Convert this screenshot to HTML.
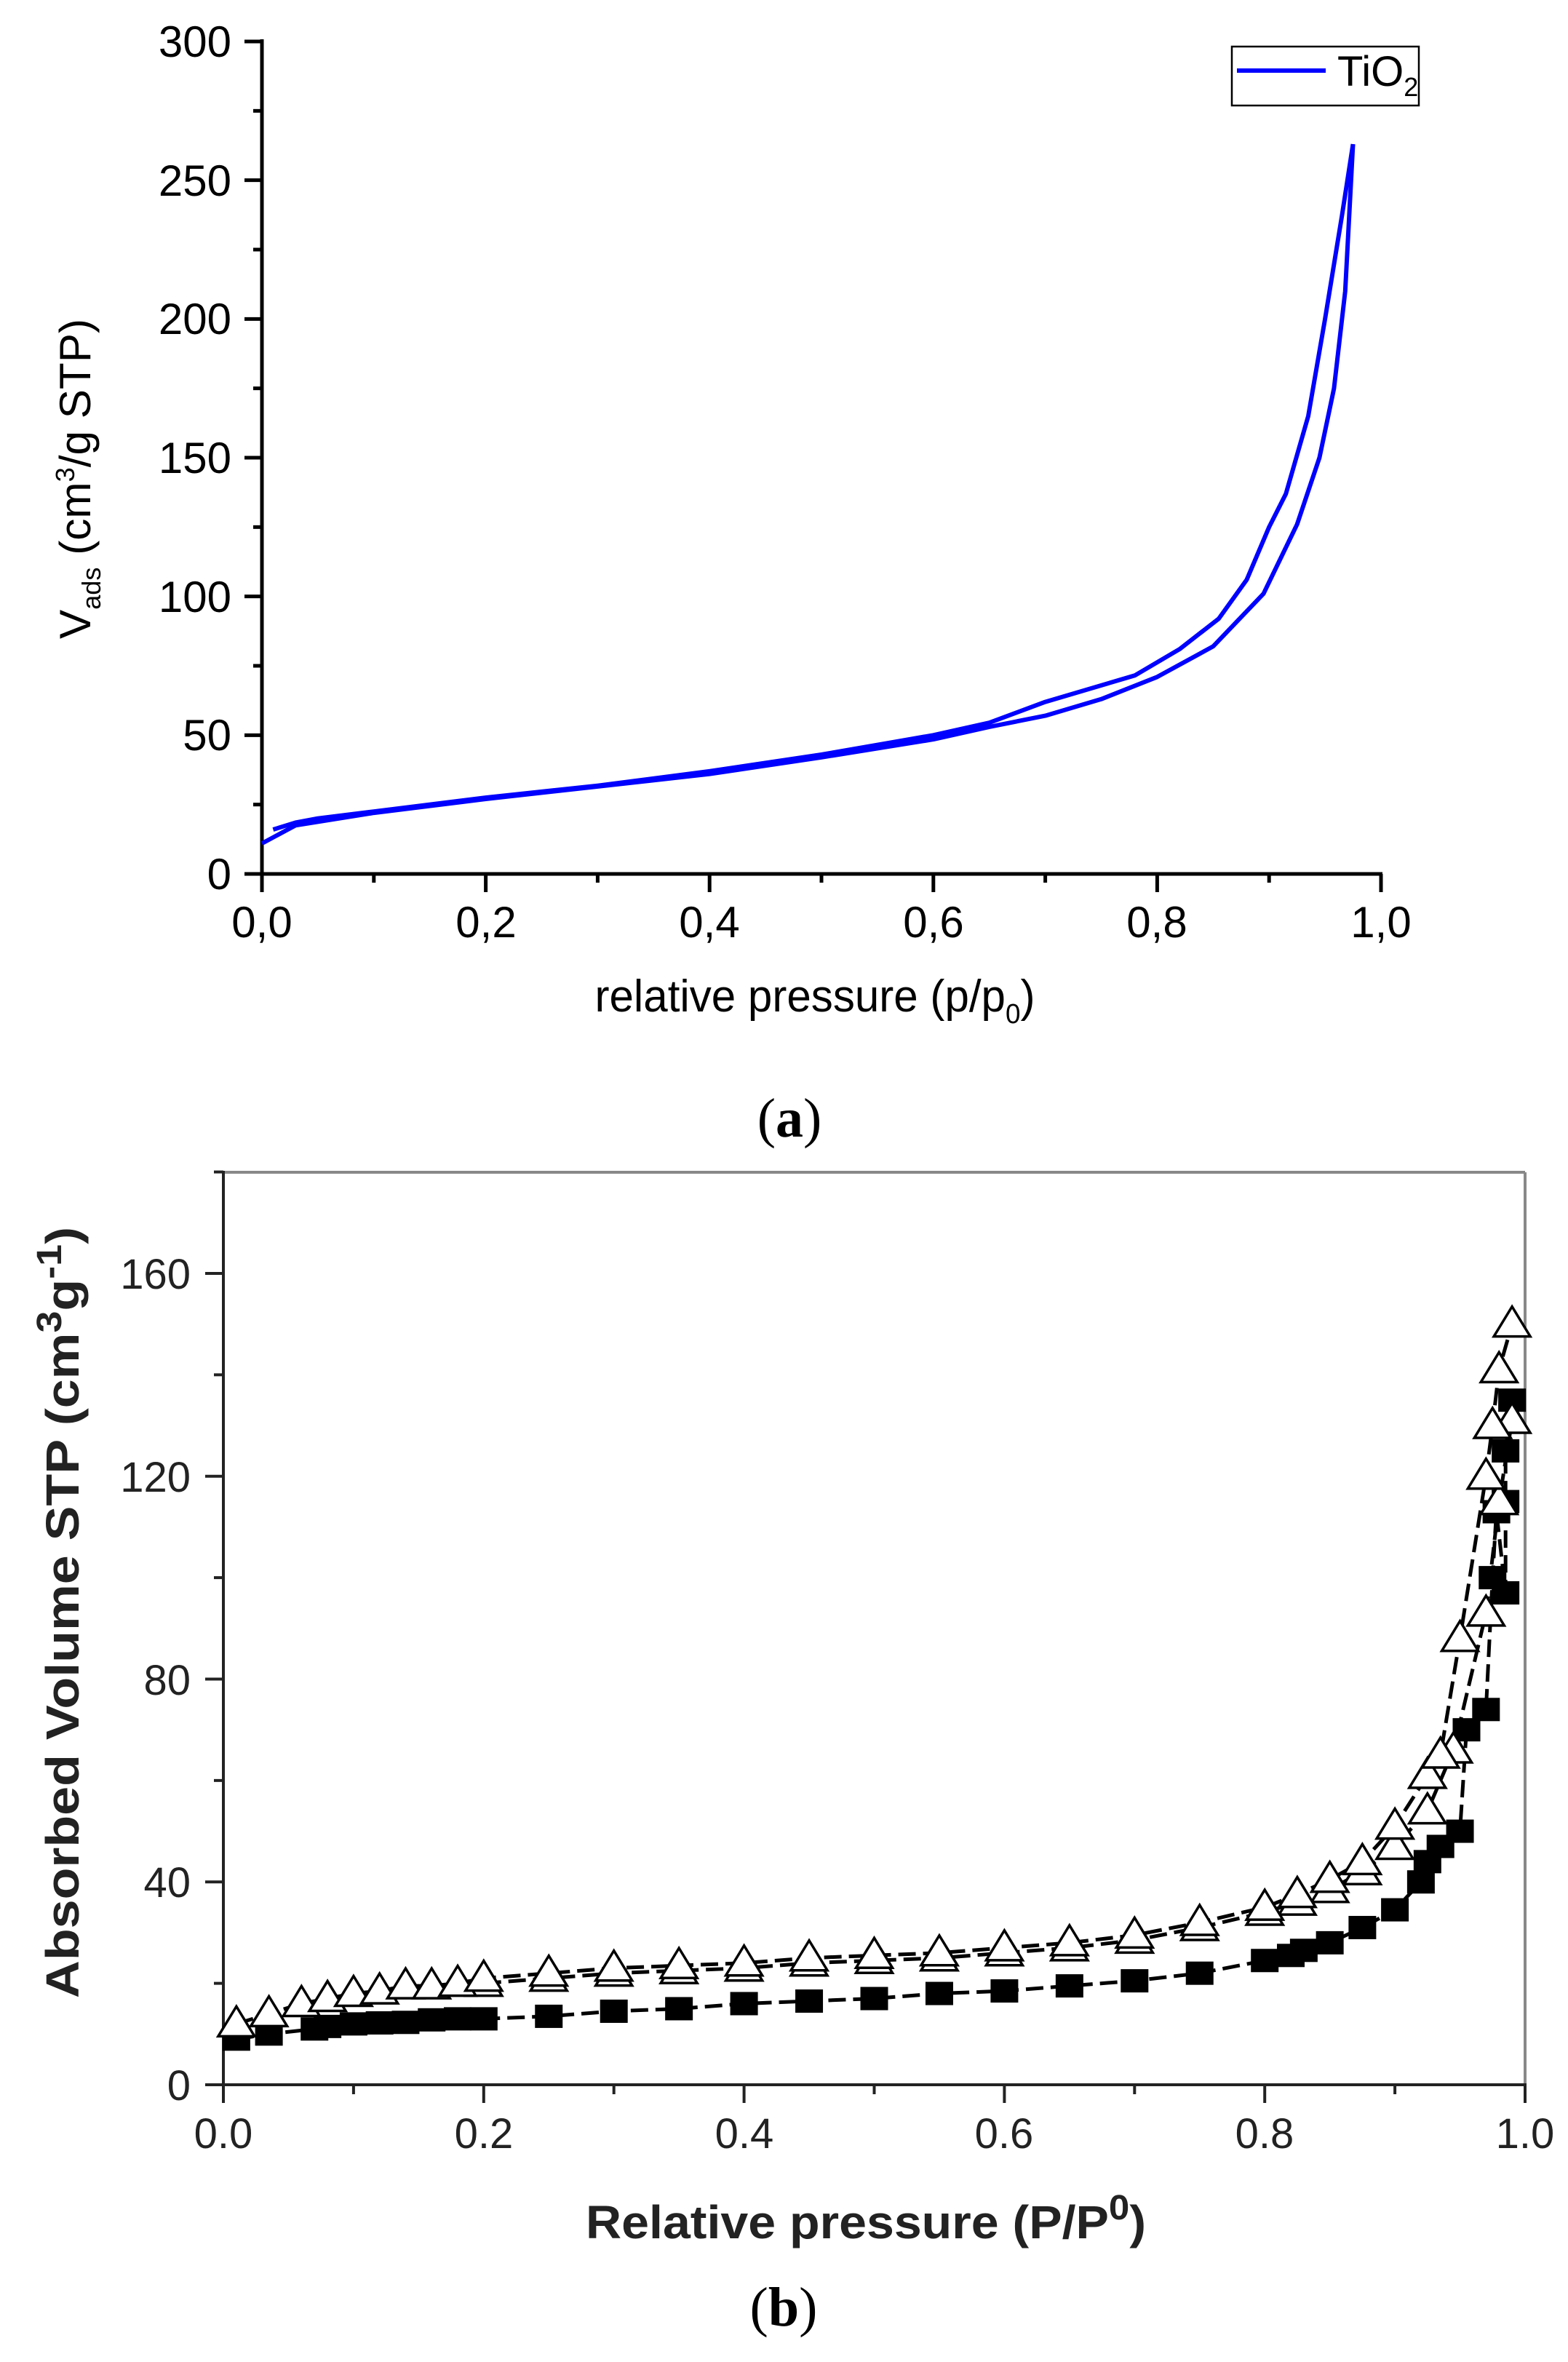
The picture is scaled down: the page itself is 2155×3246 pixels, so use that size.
<!DOCTYPE html>
<html><head><meta charset="utf-8"><style>
html,body{margin:0;padding:0;background:#fff;}
svg{display:block;}
</style></head><body>
<svg id="s" xmlns="http://www.w3.org/2000/svg" width="2155" height="3246" viewBox="0 0 2155 3246">
<rect width="2155" height="3246" fill="#fff"/>
<g id="a" font-family="Liberation Sans, Arial, sans-serif" fill="#000">
  <line x1="360" y1="54" x2="360" y2="1226" stroke="#000" stroke-width="5"/>
  <line x1="336" y1="1201" x2="1900" y2="1201" stroke="#000" stroke-width="5"/>
  <g font-size="60" text-anchor="end">
    <text x="318" y="78">300</text>
    <text x="318" y="269">250</text>
    <text x="318" y="459">200</text>
    <text x="318" y="650">150</text>
    <text x="318" y="841">100</text>
    <text x="318" y="1031">50</text>
    <text x="318" y="1222">0</text>
  </g>
  <g font-size="60" text-anchor="middle">
    <text x="360" y="1288">0,0</text>
    <text x="668" y="1288">0,2</text>
    <text x="975" y="1288">0,4</text>
    <text x="1283" y="1288">0,6</text>
    <text x="1590" y="1288">0,8</text>
    <text x="1898" y="1288">1,0</text>
  </g>
  <text x="1120" y="1390" font-size="62" text-anchor="middle" textLength="605" lengthAdjust="spacingAndGlyphs">relative pressure (p/p<tspan font-size="38" dy="16">0</tspan><tspan dy="-16">)</tspan></text>
  <text transform="translate(124,658) rotate(-90)" font-size="60" text-anchor="middle" textLength="440" lengthAdjust="spacingAndGlyphs">V<tspan font-size="36" dy="14">ads</tspan><tspan dy="-14"> (cm</tspan><tspan font-size="36" dy="-22">3</tspan><tspan dy="22">/g STP)</tspan></text>
  <rect x="1693" y="64" width="257" height="81" fill="none" stroke="#000" stroke-width="2.5"/>
  <line x1="1700" y1="97" x2="1822" y2="97" stroke="#0000ff" stroke-width="6"/>
  <text x="1838" y="118" font-size="58">TiO<tspan font-size="36" dy="14">2</tspan></text>
  <text x="1085" y="1562" font-family="Liberation Serif, serif" font-size="76" text-anchor="middle">(<tspan font-weight="bold">a</tspan>)</text>
</g>
<g id="b" font-family="Liberation Sans, Arial, sans-serif" fill="#111">
  <line x1="307" y1="1611" x2="2096" y2="1611" stroke="#888" stroke-width="4"/>
  <line x1="2096" y1="1611" x2="2096" y2="2865" stroke="#888" stroke-width="4"/>
  <line x1="307" y1="1609" x2="307" y2="2890" stroke="#222" stroke-width="4"/>
  <line x1="282" y1="2865" x2="2098" y2="2865" stroke="#222" stroke-width="4"/>
  <g font-size="58" text-anchor="end" fill="#222">
    <text x="262" y="1771">160</text>
    <text x="262" y="2050">120</text>
    <text x="262" y="2329">80</text>
    <text x="262" y="2607">40</text>
    <text x="262" y="2886">0</text>
  </g>
  <g font-size="58" text-anchor="middle" fill="#222">
    <text x="307" y="2952">0.0</text>
    <text x="665" y="2952">0.2</text>
    <text x="1023" y="2952">0.4</text>
    <text x="1380" y="2952">0.6</text>
    <text x="1738" y="2952">0.8</text>
    <text x="2096" y="2952">1.0</text>
  </g>
  <text x="1190" y="3076" font-size="64" font-weight="bold" text-anchor="middle" textLength="770" lengthAdjust="spacingAndGlyphs" fill="#222">Relative pressure (P/P<tspan font-size="48" dy="-26">0</tspan><tspan dy="26">)</tspan></text>
  <text transform="translate(108,2216) rotate(-90)" font-size="64" font-weight="bold" text-anchor="middle" textLength="1060" lengthAdjust="spacingAndGlyphs" fill="#222">Absorbed Volume STP (cm<tspan font-size="48" dy="-24">3</tspan><tspan dy="24">g</tspan><tspan font-size="48" dy="-24">-1</tspan><tspan dy="24">)</tspan></text>
  <text x="1077" y="3196" font-family="Liberation Serif, serif" font-size="76" text-anchor="middle" fill="#000">(<tspan font-weight="bold">b</tspan>)</text>
</g>
<g id="dyn"></g>
</svg>
<script>
(function(){
var NS="http://www.w3.org/2000/svg",g=document.getElementById('dyn');
function el(n,a){var e=document.createElementNS(NS,n);for(var k in a)e.setAttribute(k,a[k]);g.appendChild(e);return e;}
function AX(v){return 360+1538*v;} function AY(v){return 1201-3.8133*v;}
for(var v=0;v<=300;v+=25){var y=AY(v);el('line',{x1:(v%50==0?336:348),y1:y,x2:360,y2:y,stroke:'#000','stroke-width':5});}
for(var i=0;i<=10;i++){var x=AX(i/10);el('line',{x1:x,y1:1201,x2:x,y2:(i%2==0?1226:1213),stroke:'#000','stroke-width':5});}
var ads=[[0,11],[0.03,17.5],[0.1,22],[0.2,27],[0.3,31.5],[0.4,36],[0.5,42],[0.6,48.5],[0.65,53],[0.7,57],[0.75,63],[0.8,71],[0.85,82],[0.895,101],[0.925,126],[0.945,150],[0.958,175],[0.968,210],[0.975,263]];
var des=[[0.975,263],[0.965,237],[0.95,200],[0.935,165],[0.915,137],[0.9,125],[0.88,106],[0.855,92],[0.82,81],[0.78,71.5],[0.7,62],[0.65,54.5],[0.6,50],[0.5,43],[0.4,37],[0.3,31.8],[0.2,27.5],[0.1,22.5],[0.05,20],[0.03,18.5],[0.01,16]];
function pl(d,fx,fy){return d.map(function(p){return fx(p[0]).toFixed(1)+','+fy(p[1]).toFixed(1);}).join(' ');}
el('polyline',{points:pl(ads,AX,AY),fill:'none',stroke:'#0000ff','stroke-width':6,'stroke-linejoin':'round'});
el('polyline',{points:pl(des,AX,AY),fill:'none',stroke:'#0000ff','stroke-width':6,'stroke-linejoin':'round'});
function BX(v){return 307+1789*v;} function BY(v){return 2865-6.969*v;}
for(var v=0;v<=180;v+=20){var y=BY(v);el('line',{x1:(v%40==0?282:294),y1:y,x2:307,y2:y,stroke:'#222','stroke-width':4});}
for(var i=0;i<=10;i++){var x=BX(i/10);el('line',{x1:x,y1:2865,x2:x,y2:(i%2==0?2890:2878),stroke:'#222','stroke-width':4});}
var t1=[[0.01,12],[0.035,14],[0.06,16],[0.08,17],[0.1,18],[0.12,18.5],[0.14,19.5],[0.16,19.5],[0.18,20],[0.2,21],[0.25,22],[0.3,23],[0.35,23.5],[0.4,24],[0.45,25],[0.5,25.5],[0.55,26],[0.6,27],[0.65,28],[0.7,29.5],[0.75,32],[0.8,35],[0.825,37.5],[0.85,40.5],[0.875,44],[0.9,51],[0.925,61],[0.935,65],[0.95,88],[0.97,120],[0.975,130],[0.98,141],[0.99,150]];
var t2=[[0.2,20],[0.25,21],[0.3,22],[0.35,22.5],[0.4,23],[0.45,24],[0.5,24.5],[0.55,25],[0.6,26],[0.65,27],[0.7,28.5],[0.75,31],[0.8,34],[0.825,36],[0.85,38.5],[0.875,42],[0.9,47],[0.925,54],[0.945,66],[0.97,93],[0.98,115],[0.99,131]];
var sq=[[0.01,9],[0.035,10],[0.07,11],[0.08,11.5],[0.1,12],[0.12,12.2],[0.14,12.3],[0.16,12.8],[0.18,13],[0.2,13],[0.25,13.5],[0.3,14.5],[0.35,15],[0.4,16],[0.45,16.5],[0.5,17],[0.55,18],[0.6,18.5],[0.65,19.5],[0.7,20.5],[0.75,22],[0.8,24.5],[0.82,25.5],[0.83,26.5],[0.85,28],[0.875,31],[0.9,34.5],[0.92,40],[0.925,44],[0.935,47],[0.95,50],[0.955,70],[0.97,74],[0.975,100],[0.978,113],[0.985,97],[0.985,115],[0.985,125],[0.99,135]];
[t1,t2,sq].forEach(function(d){el('polyline',{points:pl(d,BX,BY),fill:'none',stroke:'#000','stroke-width':5,'stroke-dasharray':'24,10'});});
sq.forEach(function(p){var x=BX(p[0]),y=BY(p[1]);el('rect',{x:x-19,y:y-16,width:38,height:32,fill:'#000'});});
[t2,t1].forEach(function(d){d.forEach(function(p){var x=BX(p[0]),y=BY(p[1]);el('polygon',{points:(x-25)+','+(y+17)+' '+(x+25)+','+(y+17)+' '+x+','+(y-24),fill:'#fff',stroke:'#000','stroke-width':3.5});});});
})();
</script>
</body></html>
